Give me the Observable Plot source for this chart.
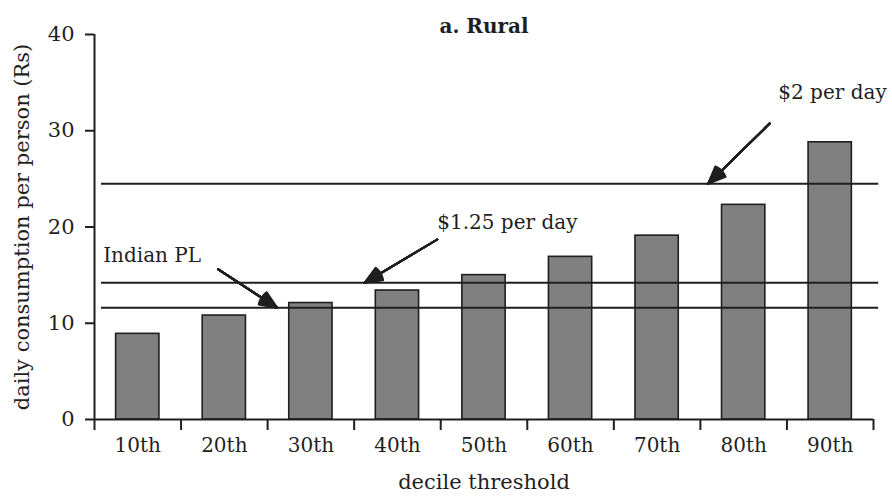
<!DOCTYPE html>
<html>
<head>
<meta charset="utf-8">
<script src="https://cdn.jsdelivr.net/npm/d3@7"></script>
<script src="https://cdn.jsdelivr.net/npm/@observablehq/plot@0.6"></script>
<style>
  html, body { margin: 0; padding: 0; background: #fff; }
  #chart { width: 892px; height: 499px; }
</style>
</head>
<body>
<div id="chart"></div>
<script>
// ---- data ----
const deciles = ["10th", "20th", "30th", "40th", "50th", "60th", "70th", "80th", "90th"];
const consumption = [8.9, 10.8, 12.1, 13.4, 15.0, 16.9, 19.1, 22.3, 28.8];
const yTicks = [0, 10, 20, 30, 40];
const lineNames = ["Indian PL", "$1.25 per day", "$2 per day"];
const lineValues = [11.6, 14.2, 24.5];
// annotation anchors (in data units: x = decile slot, y = Rs)
const labelX = [0.10, 3.96, 7.90];
const labelY = [17.0, 20.5, 34.0];
const arrowX1 = [1.43, 3.96, 7.80];
const arrowY1 = [15.6, 18.7, 30.75];
const arrowX2 = [2.11, 3.12, 7.09];
const arrowY2 = [lineValues[0], lineValues[1], lineValues[2]];

const bars = deciles.map((d, i) => ({ decile: d, i, value: consumption[i] }));
const lines = lineNames.map((name, i) => ({ name, value: lineValues[i] }));
const notes = lineNames.map((name, i) => ({
  name, lx: labelX[i], ly: labelY[i],
  x1: arrowX1[i], y1: arrowY1[i], x2: arrowX2[i], y2: arrowY2[i]
}));

const ink = "#1f1f1f";
const font = "DejaVu Serif";

// filled-looking arrowheads: a fan of heads with shrinking angles
const arrowHeads = [46, 40, 34, 28, 22, 16, 10, 4].map(ang =>
  Plot.arrow(notes, { x1: "x1", y1: "y1", x2: "x2", y2: "y2",
    stroke: ink, strokeWidth: 2, headLength: 14, headAngle: ang }));

const chart = Plot.plot({
  width: 892,
  height: 499,
  marginLeft: 94,
  marginRight: 19,
  marginTop: 34,
  marginBottom: 80,
  style: { fontFamily: font, fontSize: "20px", background: "#fff", color: ink },
  x: { type: "linear", domain: [0, 9], axis: null },
  y: { domain: [0, 40], axis: null },
  marks: [
    // bars
    Plot.rectY(bars, { x1: d => d.i + 0.25, x2: d => d.i + 0.75, y1: 0, y2: "value",
      fill: "#808080", stroke: ink, strokeWidth: 1.6 }),
    // reference lines
    Plot.ruleY(lines, { y: "value", x1: 0.08, x2: 9.06, stroke: ink, strokeWidth: 2 }),
    // axes lines
    Plot.ruleX([0], { y1: 0, y2: 40, stroke: ink, strokeWidth: 2 }),
    Plot.ruleY([0], { x1: 0, x2: 9, stroke: ink, strokeWidth: 2 }),
    // y axis
    Plot.axisY({ ticks: yTicks, tickSize: 9, tickPadding: 11, label: null,
      stroke: ink, strokeWidth: 2, fontSize: 21, fill: ink }),
    // x axis boundary ticks
    Plot.axisX({ ticks: d3.range(0, 10), tickSize: 11, tickFormat: () => "", label: null,
      stroke: ink, strokeWidth: 2 }),
    // x axis labels at slot centers
    Plot.axisX({ ticks: deciles.map((d, i) => i + 0.5), tickSize: 0, tickPadding: 18,
      tickFormat: v => deciles[Math.floor(v)], label: null, fontSize: 20, fill: ink }),
    // annotations
    ...arrowHeads,
    Plot.text(notes, { x: "lx", y: "ly", text: "name", textAnchor: "start",
      fontSize: 20, fill: ink }),
    // title and axis labels
    Plot.text(["a. Rural"], { frameAnchor: "top", dy: -16, fontWeight: "bold",
      fontSize: 20, fill: ink }),
    Plot.text(["decile threshold"], { frameAnchor: "bottom", dy: 69, fontSize: 21, fill: ink }),
    Plot.text(["daily consumption per person (Rs)"], { frameAnchor: "left", dx: -72, dy: 0,
      textAnchor: "middle", rotate: -90, fontSize: 21, fill: ink })
  ]
});

document.getElementById("chart").appendChild(chart);
</script>
</body>
</html>
